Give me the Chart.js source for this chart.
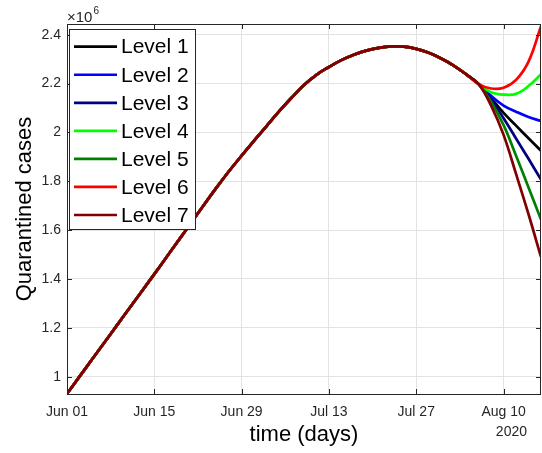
<!DOCTYPE html>
<html>
<head>
<meta charset="utf-8">
<script src="https://cdn.jsdelivr.net/npm/chart.js@4.4.1/dist/chart.umd.min.js"></script>
<style>
  html, body { margin: 0; padding: 0; background: #fff; }
  #wrap { width: 542px; height: 453px; }
</style>
</head>
<body>
<div id="wrap"><canvas id="myChart" width="542" height="453"></canvas></div>
<script>
// days counted from Jun 01 2020, values in units of 10^6
const baseDays = [0, 2, 4, 6, 8, 10, 12, 14, 16, 18, 20, 22, 24, 26, 28, 30, 32,
                  34, 36, 38, 40, 42, 44, 46, 48, 50, 52, 54, 56, 58, 60, 62, 64, 66];
const baseValues = [0.930, 1.000, 1.070, 1.140, 1.210, 1.280, 1.350, 1.420, 1.491, 1.562,
                    1.633, 1.705, 1.775, 1.842, 1.905, 1.966, 2.026, 2.086, 2.142, 2.194,
                    2.236, 2.268, 2.296, 2.318, 2.335, 2.346, 2.352, 2.351, 2.342, 2.326,
                    2.303, 2.274, 2.238, 2.198];

// after the split
const branchDays = [68, 70, 72, 74, 76];
const level1 = [2.140, 2.080, 2.028, 1.976, 1.925];
const level2 = [2.150, 2.110, 2.085, 2.063, 2.047];
const level3 = [2.135, 2.058, 1.975, 1.892, 1.807];
const level4 = [2.165, 2.155, 2.158, 2.190, 2.238];
const level5 = [2.125, 2.030, 1.905, 1.775, 1.643];
const level6 = [2.180, 2.183, 2.215, 2.290, 2.435];
const level7 = [2.110, 1.990, 1.830, 1.665, 1.490];

const levelNames = ['Level 1', 'Level 2', 'Level 3', 'Level 4', 'Level 5', 'Level 6', 'Level 7'];
const levelColors = ['#000000', '#0000ff', '#000080', '#00ff00', '#008000', '#ff0000', '#800000'];

const xTickDays = [0, 14, 28, 42, 56, 70];
const xTickLabels = ['Jun 01', 'Jun 15', 'Jun 29', 'Jul 13', 'Jul 27', 'Aug 10'];
const yTicks = [1.0, 1.2, 1.4, 1.6, 1.8, 2.0, 2.2, 2.4];
const yTickLabels = ['1', '1.2', '1.4', '1.6', '1.8', '2', '2.2', '2.4'];

const FONT = "'Liberation Sans', Arial, Helvetica, sans-serif";

function buildSeries(branch) {
    let pts = baseDays.map(function (d, i) { return {x: d, y: baseValues[i]}; });
    branch.forEach(function (v, i) { pts.push({x: branchDays[i], y: v}); });
    return pts;
}

const levels = [level1, level2, level3, level4, level5, level6, level7];
const datasets = levels.map(function (lv, i) {
    return {
        label: levelNames[i],
        data: buildSeries(lv),
        borderColor: levelColors[i],
        backgroundColor: levelColors[i],
        borderWidth: 2.7,
        pointRadius: 0,
        fill: false,
        tension: 0.4,
        order: levels.length - 1 - i   // level 7 drawn on top
    };
});

// box, inward ticks, legend and the exponent label
const matlabBits = {
    id: 'matlabBits',
    afterDatasetsDraw(chart) {
        const ctx = chart.ctx;
        const a = chart.chartArea;
        const xs = chart.scales.x, ys = chart.scales.y;
        ctx.save();
        ctx.strokeStyle = '#262626';
        ctx.lineWidth = 1;
        ctx.beginPath();
        xTickDays.forEach(function (d) {
            const px = Math.round(xs.getPixelForValue(d)) + 0.5;
            ctx.moveTo(px, a.bottom); ctx.lineTo(px, a.bottom - 5);
            ctx.moveTo(px, a.top); ctx.lineTo(px, a.top + 5);
        });
        yTicks.forEach(function (v) {
            const py = Math.round(ys.getPixelForValue(v)) + 0.5;
            ctx.moveTo(a.left, py); ctx.lineTo(a.left + 5, py);
            ctx.moveTo(a.right, py); ctx.lineTo(a.right - 5, py);
        });
        ctx.stroke();
        ctx.strokeRect(Math.round(a.left) + 0.5, Math.round(a.top) + 0.5,
                       Math.round(a.right - a.left) - 1, Math.round(a.bottom - a.top));

        // legend
        const lx = 69.5, ly = 29.5, lw = 126, lh = 200;
        ctx.fillStyle = '#ffffff';
        ctx.fillRect(lx, ly, lw, lh);
        ctx.strokeStyle = '#262626';
        ctx.strokeRect(lx, ly, lw, lh);
        ctx.font = '21px ' + FONT;
        ctx.textBaseline = 'middle';
        ctx.textAlign = 'left';
        levelNames.forEach(function (name, i) {
            const y = 46.7 + i * 28.05;
            ctx.strokeStyle = levelColors[i];
            ctx.lineWidth = 2.7;
            ctx.beginPath();
            ctx.moveTo(74, y); ctx.lineTo(117, y);
            ctx.stroke();
            ctx.fillStyle = '#000';
            ctx.fillText(name, 121, y + 1);
        });

        // x10^6 and year
        ctx.fillStyle = '#262626';
        ctx.font = '15px ' + FONT;
        ctx.fillText('\u00d710', 67, 18);
        const w = ctx.measureText('\u00d710').width;
        ctx.font = '10px ' + FONT;
        ctx.fillText('6', 67 + w + 1, 11);
        ctx.font = '14px ' + FONT;
        ctx.textAlign = 'right';
        ctx.fillText('2020', 527, 432);
        ctx.restore();
    }
};

new Chart(document.getElementById('myChart').getContext('2d'), {
    type: 'line',
    data: {datasets: datasets},
    options: {
        responsive: false,
        animation: false,
        devicePixelRatio: 1,
        layout: {padding: {top: 24, right: 1, left: 0, bottom: 0}},
        plugins: {legend: {display: false}, tooltip: {enabled: false}},
        scales: {
            x: {
                type: 'linear',
                min: 0,
                max: 76,
                afterBuildTicks: function (s) { s.ticks = xTickDays.map(function (v) { return {value: v}; }); },
                afterFit: function (s) { s.height = 59; },
                ticks: {
                    autoSkip: false, maxRotation: 0, padding: 10, color: '#262626',
                    font: {family: FONT, size: 14},
                    callback: function (v) { return xTickLabels[xTickDays.indexOf(v)]; }
                },
                grid: {color: '#e3e3e3', drawTicks: false},
                border: {display: false},
                title: {display: true, text: 'time (days)', color: '#000',
                        font: {family: FONT, size: 22}, padding: {top: 0, bottom: 5}}
            },
            y: {
                type: 'linear',
                min: 0.929,
                max: 2.444,
                afterBuildTicks: function (s) { s.ticks = yTicks.map(function (v) { return {value: v}; }); },
                afterFit: function (s) { s.width = 67; },
                ticks: {
                    padding: 6, color: '#262626',
                    font: {family: FONT, size: 14},
                    callback: function (v) { return yTickLabels[yTicks.indexOf(v)]; }
                },
                grid: {color: '#e3e3e3', drawTicks: false},
                border: {display: false},
                title: {display: true, text: 'Quarantined cases', color: '#000',
                        font: {family: FONT, size: 22}, padding: {top: 12, bottom: 0}}
            }
        }
    },
    plugins: [matlabBits]
});
</script>
</body>
</html>
